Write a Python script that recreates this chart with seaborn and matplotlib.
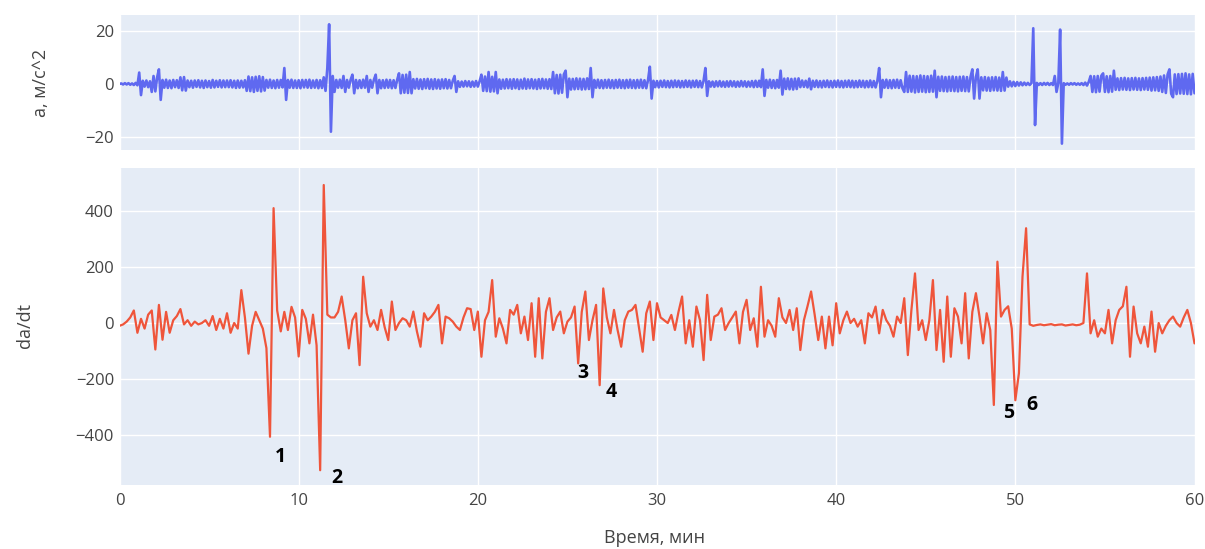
import numpy as np
import pandas as pd
import seaborn as sns
import matplotlib
matplotlib.use("Agg")
import matplotlib.pyplot as plt

# ---------------- data ----------------
# upper panel sampled every 0.1 min, lower panel every 0.2 min
time_a = np.round(np.arange(0, 601) * 0.1, 1)
time_d = np.round(np.arange(0, 301) * 0.2, 1)

# acceleration a, m/c^2 (upper panel), 20 readings per row = 2 min
accel = [
    0, 0.2, -0.2, 0.3, -0.2, 0.3, -0.3, 0.2, -0.4, 0.4, -0.5, 4.3, -4.2, 1.2, -1.0, 1.3, -1.2, 1.0, -3.0, 3.0,
    -2.8, 2.5, 5.5, -6.0, 1.5, -1.4, 1.6, -1.5, 1.3, -1.6, 1.5, -1.2, 1.4, -1.5, 2.5, -2.4, 2.6, -2.5, 1.3, -1.2,
    1.2, -1.4, 1.3, -1.1, 1.4, -1.3, 1.2, -1.5, 1.3, -1.2, 1.1, -1.4, 1.5, -1.3, 1.2, -1.1, 1.4, -1.3, 1.3, -1.2,
    1.3, -1.2, 1.4, -1.3, 1.2, -1.5, 1.3, -1.4, 1.2, -1.3, 1.4, -2.6, 2.8, -2.7, 2.5, -3.0, 2.7, -2.6, 2.9, -2.8,
    2.6, -2.5, 1.5, -1.4, 1.6, -1.5, 1.3, -1.6, 1.5, -1.4, 1.5, -1.3, 6.0, -6.0, 1.5, -1.4, 1.6, -1.5, 1.3, -1.5,
    1.4, -1.6, 1.5, -1.3, 1.5, -1.4, 1.6, -1.5, 1.3, -1.4, 1.5, -1.6, 1.4, -1.5, 2.5, -2.6, 6.0, 22.5, -18.0, 3.0,
    -3.0, 1.5, -1.4, 1.6, -1.5, 3.0, -3.0, 1.5, -1.4, 1.6, 3.5, -3.5, 1.5, -1.6, 1.4, -1.5, 1.6, -1.4, 3.0, -3.0,
    1.5, -1.4, 1.6, 3.5, -3.5, 1.5, -1.6, 1.4, -1.5, 1.6, -1.4, 1.5, -1.6, 1.4, -1.5, 1.6, 4.0, -3.5, 3.4, -3.3,
    3.5, -3.4, 4.5, -3.5, 1.8, -1.7, 1.9, -1.8, 1.7, -1.9, 1.8, -1.6, 1.9, -1.8, 1.7, -1.9, 1.8, -1.7, 1.6, -1.8,
    1.7, -1.6, 1.8, -1.7, 1.5, -1.6, 1.2, 3.0, -3.0, 1.0, -1.1, 0.9, -1.0, 1.1, -0.9, 1.0, -1.1, 0.9, -1.0, 1.1,
    -1.0, 1.0, 3.5, -2.6, 2.8, -2.7, 4.5, -2.9, 2.7, -2.8, 4.5, -3.5, 1.7, -1.8, 1.6, -1.7, 1.8, -1.6, 1.7, -1.8,
    1.8, -1.6, 1.7, -1.9, 1.6, -1.7, 2.0, -1.8, 1.7, -1.6, 1.8, -1.7, 1.6, -1.9, 1.8, -1.7, 1.9, -1.6, 1.7, -1.8,
    1.8, -1.9, 4.5, -3.5, 3.4, -3.6, 3.5, -3.3, 3.6, 5.0, -5.0, 2.0, -2.1, 1.9, -2.0, 2.1, -1.9, 2.0, -2.1, 1.9,
    -2.0, 2.1, -1.9, 6.0, -5.0, 1.5, -1.4, 1.6, -1.5, 1.4, -1.6, 1.5, -1.4, 1.6, -1.5, 1.4, -1.6, 1.5, -1.4, 1.6,
    -1.5, 1.4, -1.6, 1.5, -1.4, 1.6, -1.5, 1.4, -1.6, 1.5, -1.4, 1.6, -1.5, 1.4, -1.6, 1.5, 6.5, -5.5, 1.2, -1.2,
    1.1, -1.3, 1.2, -1.1, 1.3, -1.2, 1.1, -1.3, 1.2, -1.2, 1.3, -1.1, 1.2, -1.3, 1.1, -1.2, 1.3, -1.1, 1.2, -1.3,
    1.2, -1.1, 1.3, -1.2, 1.1, -1.3, 1.2, 6.0, -4.5, 1.0, -1.0, 0.9, -1.1, 1.0, -0.9, 1.1, -1.0, 0.9, -1.1, 1.0,
    -1.0, 1.1, -0.9, 1.0, -1.1, 0.9, -1.0, 1.1, -0.9, 1.0, -1.1, 0.9, -1.0, 1.1, -1.2, 1.2, -1.1, 1.2, -1.2, 5.5,
    -4.5, 1.5, -1.4, 1.6, -1.5, 1.4, -1.6, 1.5, -1.4, 5.0, -4.0, 2.0, -1.9, 2.1, -2.0, 1.9, -2.1, 2.0, -1.9, 2.1,
    -1.2, 1.3, -1.1, 1.2, -1.3, 2.0, -2.0, 1.2, -1.1, 1.3, -1.2, 1.1, -1.3, 1.2, -1.1, 1.3, -1.2, 1.1, -1.3, 1.2,
    -1.1, 1.3, -1.2, 1.1, -1.3, 1.2, -1.1, 1.3, -1.2, 1.2, -1.3, 1.1, -1.2, 1.3, -1.1, 1.2, -1.3, 1.1, -1.2, 1.3,
    -1.2, 1.1, -1.3, 1.2, 6.0, -5.0, 1.5, -1.4, 1.6, -1.5, 1.4, -1.6, 1.5, -1.4, 1.6, -1.5, 1.4, -1.6, -3.0, 4.5,
    -3.0, 3.1, -2.9, 3.0, -3.2, 2.9, -3.0, 3.2, -2.9, 3.0, -3.1, 2.9, -3.0, 3.1, -2.9, 5.0, -5.0, 2.7, -2.6, 2.8,
    -2.7, 2.6, -2.8, 2.7, -2.6, 2.8, -2.7, 2.6, -2.8, 2.7, -2.6, 2.8, -2.7, 2.6, -2.8, 2.7, 5.5, -5.5, 2.6, 5.5,
    -5.5, 2.5, -2.4, 2.6, -2.5, 2.4, -2.6, 2.5, -2.4, 2.6, -2.5, 2.4, -2.6, 4.5, -2.5, 2.4, -1.0, 1.0, -0.9, 0.8,
    -0.8, 0.7, -0.6, 0.6, -0.5, 0.5, -0.4, 0.4, -0.4, 0.3, 21.0, -15.5, 0.4, -0.4, 0.3, -0.4, 0.4, -0.3, 0.4, -0.4,
    0.3, -0.4, 3.0, -3.0, 0.4, 20.5, -22.5, 0.3, -0.3, 0.2, -0.3, 0.3, -0.2, 0.3, -0.3, 0.2, -0.3, 0.3, -0.4, 0.5,
    -0.6, 0.8, 3.0, -3.0, 2.9, -3.1, 3.0, -2.9, 3.1, 4.0, -3.0, 2.9, -3.1, 3.0, -2.9, 5.0, -2.2, 2.1, -2.3, 2.2,
    -2.1, 2.3, -2.2, 2.1, -2.3, 2.2, -2.1, 2.3, -2.2, 2.1, -2.3, 2.2, -2.1, 2.3, -2.2, 2.4, -2.5, 2.5, -2.4, 2.6,
    -2.6, 2.8, -3.0, 3.2, -3.4, 3.6, 5.5, -3.7, -5.0, 3.6, -3.8, 3.7, -3.6, 3.8, -3.7, 4.0, -3.8, 3.6, -3.9, 3.8,
    -3.5,
]

# derivative da/dt (lower panel), 10 readings per row = 2 min
dadt = [
    -10, -5, 5, 20, 45, -35, 15, -20, 30, 45,
    -95, 65, -60, 40, -35, 10, 25, 50, -5, 10,
    -10, 5, -5, 0, 10, -10, 25, -25, 15, -20,
    35, -35, 0, -20, 118, 20, -110, -10, 40, 10,
    -20, -90, -408, 412, 45, -30, 40, -25, 58, 20,
    -120, 47, 15, -73, 30, -80, -528, 495, 30, 20,
    20, 40, 95, 10, -91, 10, 35, -151, 166, 35,
    -13, 10, -25, 47, -15, -61, 77, -25, 0, 17,
    10, -13, 41, -30, -85, 35, 10, 23, 40, 65,
    -73, 23, 17, 5, -13, -25, 20, 53, 50, -25,
    41, -121, 10, 40, 154, -49, 17, -20, -73, 47,
    30, 65, -37, 23, -61, 71, -121, 89, -127, 40,
    89, -25, 20, 41, -37, 5, 20, 59, -145, 40,
    113, -61, 10, 65, -223, 124, 20, -37, 47, -25,
    -85, 10, 41, 47, 65, -20, -103, 35, 77, -61,
    71, 20, 10, 0, 29, -25, 40, 95, -73, 10,
    -85, 59, 10, -133, 101, -61, 23, 30, 53, -25,
    0, 20, 41, -73, 40, 83, -25, 17, -85, 130,
    -49, 10, -10, -49, 89, 20, 0, 47, -25, 53,
    -97, 10, 60, 113, 30, -61, 23, -91, 23, -80,
    71, -37, 10, 41, 0, 15, -13, 10, -73, 35,
    20, 59, -37, 47, 10, -10, -49, 23, 0, 89,
    -115, 47, 178, -25, 10, -61, 10, 154, -97, 47,
    -139, 95, -121, 53, 23, -73, 107, -127, 40, 107,
    23, -73, 35, -25, -294, 220, 23, 47, 60, -20,
    -277, -180, 166, 340, -5, -10, -7, -5, -8, -6,
    -4, -8, -6, -5, -9, -7, -5, -8, -6, 0,
    178, -37, 10, -49, -20, -37, 47, -73, 10, 47,
    60, 130, -121, 59, -37, -73, -13, -85, 41, -103,
    0, -37, -10, 10, 23, 0, -13, 20, 47, 0,
    -73,
]

# numbered marks on the lower panel
mark_labels = ["1", "2", "3", "4", "5", "6"]
mark_x = [9.0, 12.13, 25.84, 27.46, 49.6, 50.9]
mark_y = [-481, -557, -180, -248, -323, -294]

x_ticks = [0, 10, 20, 30, 40, 50, 60]
top_ticks = [-20, 0, 20]
bottom_ticks = [-400, -200, 0, 200, 400]

# ---------------- styling ----------------
sns.set_theme(style="darkgrid", rc={
    "axes.facecolor": "#E5ECF6",
    "figure.facecolor": "white",
    "grid.color": "white",
    "grid.linewidth": 1.0,
    "axes.edgecolor": "#E5ECF6",
})
plt.rcParams["font.family"] = ["Open Sans", "DejaVu Sans"]
TXT = "#444444"

df_top = pd.DataFrame({"t": time_a, "a": accel})
df_bot = pd.DataFrame({"t": time_d, "d": dadt})

fig = plt.figure(figsize=(12.05, 5.49), dpi=100)
W, H = 1205.0, 549.0
left = 119.5 / W
width = 1075.0 / W
ax1 = fig.add_axes([left, 1 - 150 / H, width, 135 / H])
ax2 = fig.add_axes([left, 1 - 485 / H, width, 317 / H])

sns.lineplot(data=df_top, x="t", y="a", ax=ax1, color="#5F69F0",
             linewidth=1.9, estimator=None, sort=False)
sns.lineplot(data=df_bot, x="t", y="d", ax=ax2, color="#EF553B",
             linewidth=1.6, estimator=None, sort=False)

for ax in (ax1, ax2):
    ax.set_xlim(0, 60)
    ax.set_xticks(x_ticks)
    for s in ax.spines.values():
        s.set_visible(False)
    ax.tick_params(length=0, colors=TXT, labelsize=12, pad=4)
    ax.set_xlabel("")
    ax.set_ylabel("")

ax1.set_ylim(-24.9, 26.0)
ax1.set_yticks(top_ticks)
ax1.set_xticklabels([])

ax2.set_ylim(-581, 556)
ax2.set_yticks(bottom_ticks)
ax2.tick_params(axis="x", pad=6)

# axis titles
fig.text(41 / W, 1 - 83 / H, "a, м/c^2", rotation=90, ha="center",
         va="center", color=TXT, fontsize=13)
fig.text(25 / W, 1 - 325 / H, "da/dt", rotation=90, ha="center",
         va="center", color=TXT, fontsize=13)
fig.text(655 / W, 1 - 538 / H, "Время, мин", ha="center", va="center",
         color=TXT, fontsize=13)

for lab, xv, yv in zip(mark_labels, mark_x, mark_y):
    ax2.text(xv, yv, lab, ha="center", va="center", fontsize=14,
             fontweight="bold", color="black", clip_on=False)

fig.savefig("out.png", dpi=100)
